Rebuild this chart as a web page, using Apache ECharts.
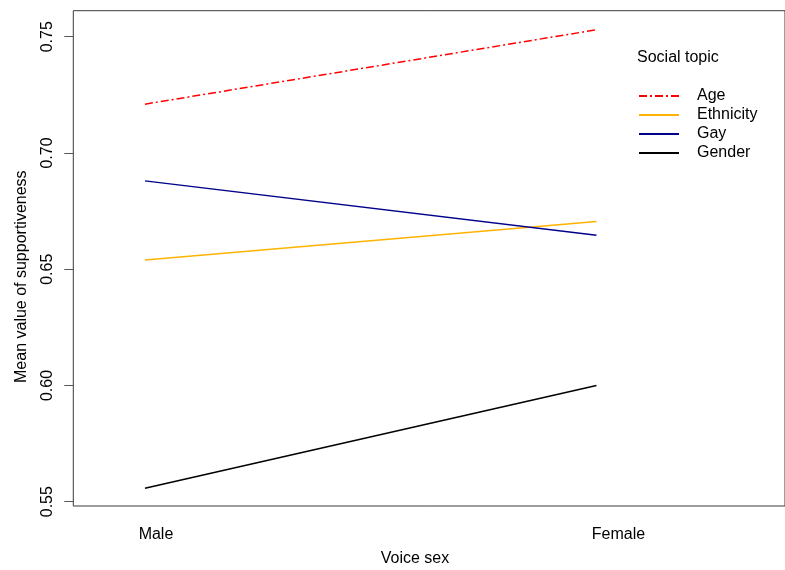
<!DOCTYPE html>
<html>
<head>
<meta charset="utf-8">
<script src="https://cdn.jsdelivr.net/npm/echarts@6/dist/echarts.min.js"></script>
<style>
  html, body { margin: 0; padding: 0; background: #fff; }
  #chart { width: 785px; height: 570px; }
</style>
</head>
<body>
<div id="chart"></div>
<script>
// ---- data ----
var categories = ['Male', 'Female'];
var topics = ['Age', 'Ethnicity', 'Gay', 'Gender'];
var ageValues = [0.721, 0.753];
var ethnicityValues = [0.654, 0.6705];
var gayValues = [0.688, 0.6646];
var genderValues = [0.5558, 0.600];
var yTicks = [0.55, 0.60, 0.65, 0.70, 0.75];

// ---- layout / style ----
var FONT = 'Liberation Sans, Arial, Helvetica, sans-serif';
var xPos = [1, 2];                 // category positions on the value axis
var labelShift = [0.0244, 0.0487]; // label offset (in axis units) as in reference
var colors = { Age: '#FF0000', Ethnicity: '#FFB300', Gay: '#00008B', Gender: '#000000' };
var dashes = { Age: [8, 3, 2, 3], Ethnicity: 'solid', Gay: 'solid', Gender: 'solid' };
var valuesByTopic = { Age: ageValues, Ethnicity: ethnicityValues, Gay: gayValues, Gender: genderValues };

var labelVals = xPos.map(function (p, i) { return p + labelShift[i]; });

function catLabel(v) {
  for (var i = 0; i < labelVals.length; i++) {
    if (Math.abs(v - labelVals[i]) < 1e-6) return categories[i];
  }
  return '';
}

var series = topics.map(function (t) {
  return {
    name: t,
    type: 'line',
    symbol: 'none',
    silent: true,
    animation: false,
    data: valuesByTopic[t].map(function (v, i) { return [xPos[i], v]; }),
    lineStyle: { color: colors[t], width: 1.5, type: dashes[t] },
    itemStyle: { color: colors[t] }
  };
});

var chart = echarts.init(document.getElementById('chart'), null, { renderer: 'canvas' });
chart.setOption({
  backgroundColor: '#ffffff',
  animation: false,
  grid: {
    left: 73.3, top: 10.7, width: 712, height: 495.3,
    show: true, borderColor: '#3a3a3a', borderWidth: 1, backgroundColor: 'transparent'
  },
  xAxis: {
    type: 'value',
    min: 0.8413, max: 2.4176,
    splitLine: { show: false },
    axisLine: { show: false },
    axisTick: { show: false },
    axisLabel: {
      customValues: labelVals,
      formatter: catLabel,
      fontFamily: FONT, fontSize: 16, color: '#000',
      margin: 21
    }
  },
  yAxis: {
    type: 'value',
    min: 0.54815, max: 0.7612,
    splitLine: { show: false },
    axisLine: { show: false },
    axisTick: {
      show: true, customValues: yTicks, length: 9,
      lineStyle: { color: '#555', width: 1 }
    },
    axisLabel: {
      customValues: yTicks,
      formatter: function (v) { return v.toFixed(2); },
      rotate: 90,
      fontFamily: FONT, fontSize: 16, color: '#000',
      margin: 18
    }
  },
  legend: {
    orient: 'vertical',
    left: 638, top: 86.5, padding: 0,
    itemWidth: 40, itemHeight: 19, itemGap: 0,
    selectedMode: false,
    data: topics,
    itemStyle: { opacity: 0 },
    textStyle: { fontFamily: FONT, fontSize: 16, color: '#000', lineHeight: 19, padding: [0, 0, 0, 13] }
  },
  graphic: [
    {
      type: 'text', left: 637, top: 50,
      style: { text: 'Social topic', font: '16px ' + FONT, fill: '#000' }
    },
    {
      type: 'text', x: 21.7, y: 276.7, rotation: Math.PI / 2,
      style: { text: 'Mean value of supportiveness', font: '16px ' + FONT, fill: '#000',
               align: 'center', verticalAlign: 'middle' }
    },
    {
      type: 'text', x: 415, y: 559,
      style: { text: 'Voice sex', font: '16px ' + FONT, fill: '#000',
               align: 'center', verticalAlign: 'middle' }
    }
  ],
  series: series
});
</script>
</body>
</html>
